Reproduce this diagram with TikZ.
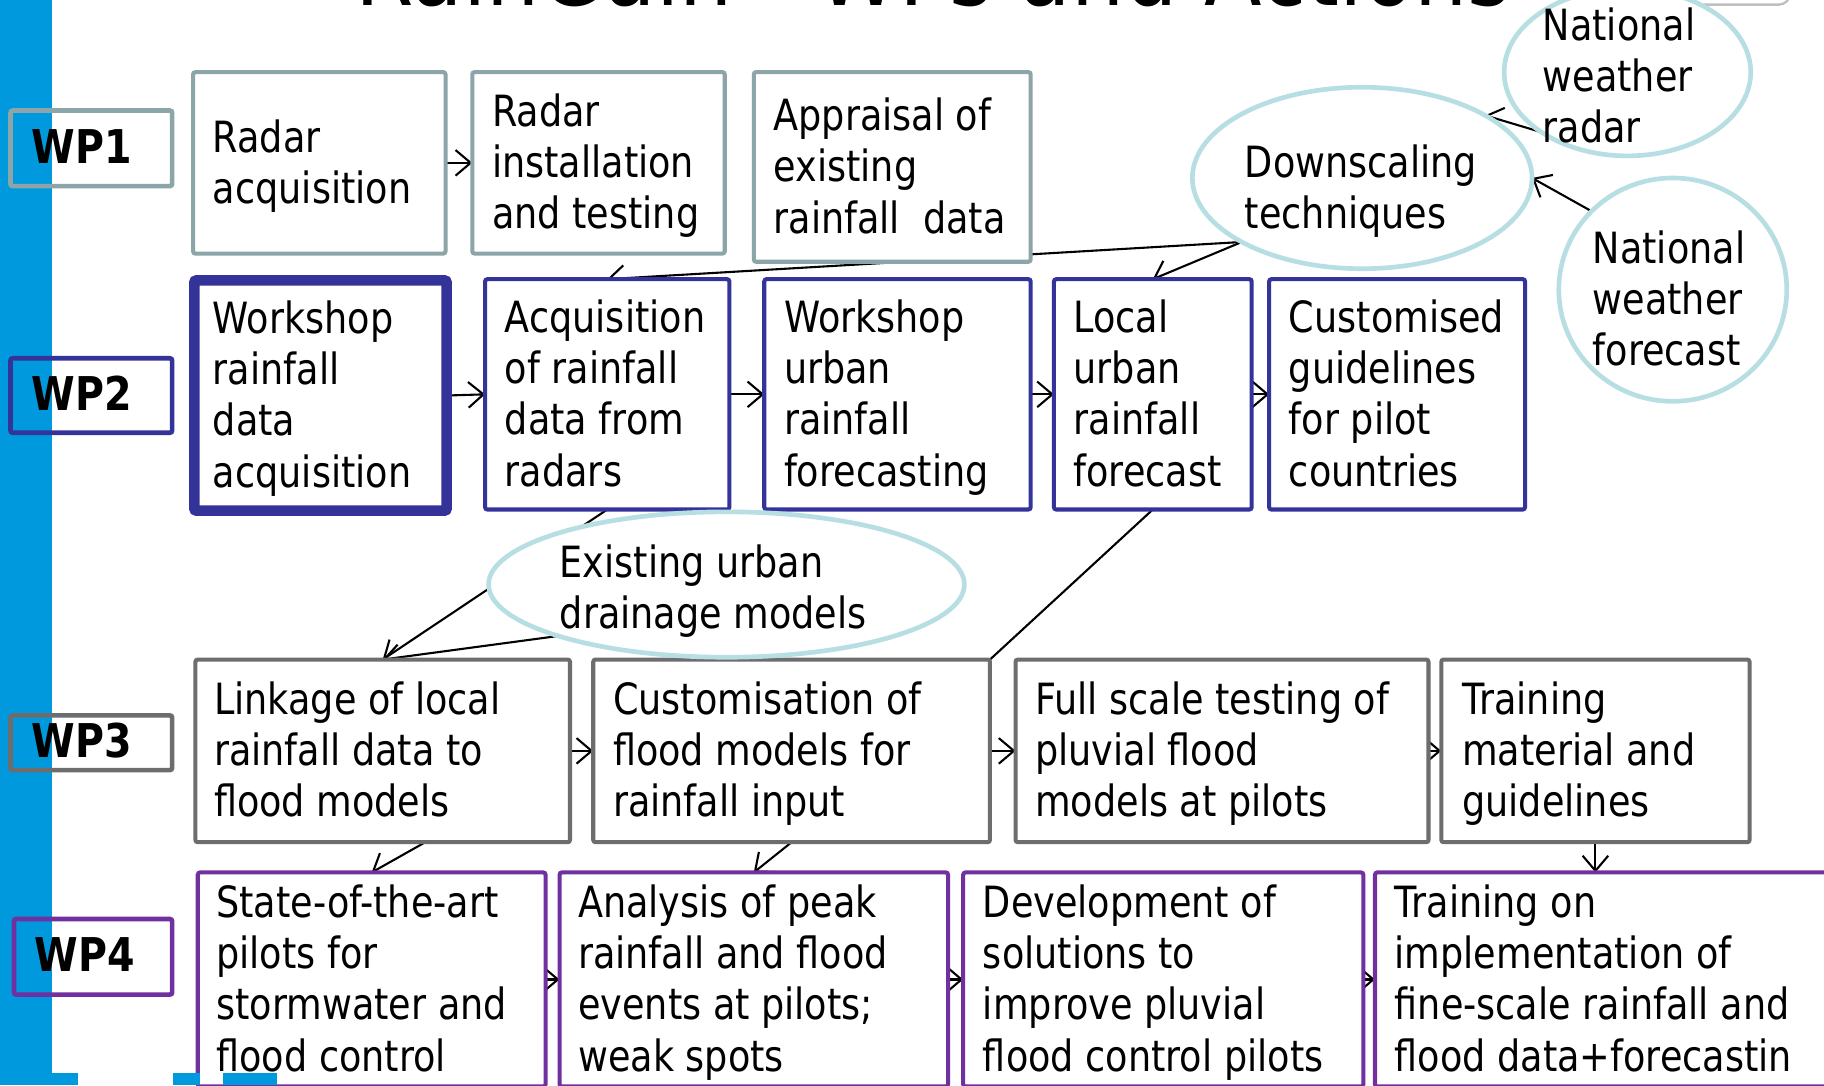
\documentclass[tikz,border=0pt]{standalone}
\usepackage{fontspec}
\setmainfont{DejaVu Sans}[FakeStretch=0.85]
\usetikzlibrary{shapes.geometric,arrows.meta}
\definecolor{wpa}{RGB}{140,165,168}
\definecolor{wpb}{RGB}{51,51,153}
\definecolor{wpc}{RGB}{109,109,109}
\definecolor{wpd}{RGB}{112,48,160}
\definecolor{ellc}{RGB}{183,222,226}
\definecolor{barc}{RGB}{0,153,221}
\newcommand\bodyfont{\fontsize{37}{44}\selectfont}
\newcommand\wpfont{\fontsize{40}{44}\selectfont\bfseries}
\newcommand\bx[8]{%
  \pgfmathsetmacro\tw{#4-#2-2*#8}\pgfmathsetmacro\mh{#5-#3}%
  \node[box,#6,inner xsep=#8,minimum height=\mh pt,anchor=north west] (#1) at (#2,#3)
    {\raisebox{-4pt}[\height][\depth]{\makebox[\tw pt][l]{\begin{tabular}{@{}l@{}}#7\end{tabular}}}};}
\pgfdeclarelayer{bg}
\pgfsetlayers{bg,main}
\begin{document}
\begin{tikzpicture}[x=1pt,y=-1pt,
  box/.style={draw,line width=3.5pt,rounded corners=2pt,fill=white,inner ysep=0pt,outer sep=0pt,font=\bodyfont},
  rowa/.style={draw=wpa},
  rowb/.style={draw=wpb},
  rowc/.style={draw=wpc},
  rowd/.style={draw=wpd},
  wpbox/.style={fill=none,line width=4pt,font=\wpfont},
  ell/.style={ellipse,draw=ellc,line width=4pt,fill=white,inner sep=0pt,outer sep=0pt},
  etext/.style={inner sep=0pt,anchor=west,font=\bodyfont,align=left},
  conn/.style={line width=1.8pt,-{Straight Barb[length=13pt,width=22pt,line width=1.8pt]}},
  plain/.style={line width=1.8pt}]
\useasboundingbox (0,0) rectangle (1568,933);
\clip (0,0) rectangle (1568,933);
\begin{pgfonlayer}{bg}
  \fill[white] (0,0) rectangle (1568,933);
  \fill[barc] (0,0) rectangle (45,933);
\end{pgfonlayer}
% title (cut off at top)
\node[anchor=base west,inner sep=0pt,font=\fontsize{85}{90}\selectfont] (title) at (305,5) {RainGain - WPs and Actions};
\draw[black!25,line width=2pt,rounded corners=10pt] (1367,-40) rectangle (1539,4);

% WP labels
\bx{WP1}{9}{95}{148}{160}{wpbox,draw=wpa}{WP1}{18}
\bx{WP2}{9}{308}{148}{372}{wpbox,draw=wpb}{WP2}{18}
\bx{WP3}{9}{615}{148}{662}{wpbox,draw=wpc}{WP3}{18}
\bx{WP4}{12}{790}{148}{855}{wpbox,draw=wpd}{WP4}{18}

% Row 1
\bx{A1}{166}{62}{383}{218}{rowa}{Radar\\acquisition}{17}
\bx{A2}{406}{62}{623}{218}{rowa}{Radar\\installation\\and testing}{17}
\bx{A3}{648}{62}{886}{225}{rowa}{Appraisal of\\existing\\rainfall~~data}{17}

% Row 2
\bx{B1}{167}{241}{384}{439}{rowb,line width=9pt}{Workshop\\rainfall\\data\\acquisition}{16}
\bx{B2}{417}{240}{627}{438}{rowb}{Acquisition\\of rainfall\\data from\\radars}{17}
\bx{B3}{657}{240}{886}{438}{rowb}{Workshop\\urban\\rainfall\\forecasting}{17}
\bx{B4}{906}{240}{1076}{438}{rowb}{Local\\urban\\rainfall\\forecast}{17}
\bx{B5}{1091}{240}{1311}{438}{rowb}{Customised\\guidelines\\for pilot\\countries}{17}

% Row 3
\bx{C1}{168}{567}{490}{724}{rowc}{Linkage of local\\rainfall data to\\flood models}{16}
\bx{C2}{510}{567}{851}{724}{rowc}{Customisation of\\flood models for\\rainfall input}{17}
\bx{C3}{873}{567}{1228}{724}{rowc}{Full scale testing of\\pluvial flood\\models at pilots}{17}
\bx{C4}{1239}{567}{1504}{724}{rowc}{Training\\material and\\guidelines}{18}

% Row 4
\bx{D1}{170}{750}{469}{934}{rowd}{State-of-the-art\\pilots for\\stormwater and\\flood control}{16}
\bx{D2}{481}{750}{815}{934}{rowd}{Analysis of peak\\rainfall and flood\\events at pilots;\\weak spots}{16}
\bx{D3}{828}{750}{1172}{934}{rowd}{Development of\\solutions to\\improve pluvial\\flood control pilots}{17}
\bx{D4}{1182}{750}{1620}{934}{rowd}{Training on\\implementation of\\fine-scale rainfall and\\flood data+forecastin}{17}

% Ellipses
\node[ell,minimum width=292pt,minimum height=156pt] (E1) at (1171,153) {};
\node[etext] (E1t) at (1070,164.5) {Downscaling\\techniques};
\node[ell,minimum width=212pt,minimum height=144pt] (E2) at (1399,62) {};
\node[etext] (E2t) at (1326,65) {National\\weather\\radar};
\node[ell,minimum width=196pt,minimum height=192pt] (E3) at (1438,249) {};
\node[etext] (E3t) at (1369,256.5) {National\\weather\\forecast};
\node[ell,minimum width=409pt,minimum height=125pt] (E4) at (624.5,502.5) {};
\node[etext] (E4t) at (481,508) {Existing urban\\drainage models};

% bottom-left blue fragments
\fill[barc] (0,922) rectangle (67,933);
\fill[barc] (149,922) rectangle (172,933);
\fill[barc] (192,922) rectangle (238,933);

\begin{pgfonlayer}{bg}
  \draw[conn] (A1.east) -- (A2.west);
  \draw[conn] (E1.208) -- (B2.north);
  \draw[conn] (E1.208) -- (B4.north);
  \draw[conn] (E2.215) -- (E1.27);
  \draw[conn] (E3.136) -- (E1.east);
  \draw[conn] (B1.east) -- (B2.west);
  \draw[conn] (B2.east) -- (B3.west);
  \draw[conn] (B3.east) -- (B4.west);
  \draw[conn] (B4.east) -- (B5.west);
  \draw[conn] (B2.south) -- (C1.north);
  \draw[conn] (E4.197) -- (C1.north);
  \draw[plain] (B4.south) -- (C2.north east);
  \draw[conn] (C1.east) -- (C2.west);
  \draw[conn] (C2.east) -- (C3.west);
  \draw[conn] (C3.east) -- (C4.west);
  \draw[conn] (C1.295) -- (D1.north);
  \draw[conn] (C2.south) -- (D2.north);
  \draw[conn] (C4.south) -- (C4.south |- D4.north);
  \draw[conn] (D1.east) -- (D2.west);
  \draw[conn] (D2.east) -- (D3.west);
  \draw[conn] (D3.east) -- (D4.west);
\end{pgfonlayer}
\end{tikzpicture}
\end{document}
